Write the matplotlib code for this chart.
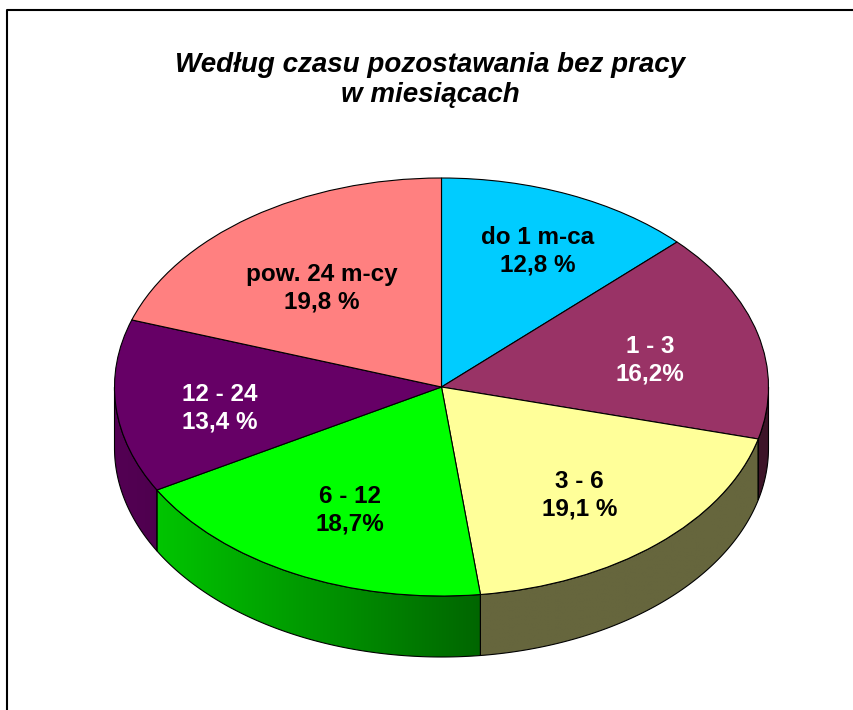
import numpy as np
import matplotlib.pyplot as plt
from matplotlib.patches import Wedge, Polygon
from matplotlib.colors import to_rgb
from matplotlib.transforms import Affine2D

plt.rcParams['font.family'] = ['Liberation Sans', 'DejaVu Sans']

labels = ['do 1 m-ca', '1 - 3', '3 - 6', '6 - 12', '12 - 24', 'pow. 24 m-cy']
shares = [12.8, 16.2, 19.1, 18.7, 13.4, 19.8]
pct_text = ['12,8 %', '16,2%', '19,1 %', '18,7%', '13,4 %', '19,8 %']
colors = ['#00CCFF', '#993366', '#FFFF99', '#00FF00', '#660066', '#FF8080']
text_colors = ['black', 'white', 'black', 'black', 'white', 'black']
label_r = [0.75, 0.66, 0.64, 0.62, 0.68, 0.63]

W, H = 854, 710
cx, cy = 441.5, H - 387
rx, ry, depth = 327, 209, 61

fig = plt.figure(figsize=(W / 100, H / 100), dpi=100)
ax = fig.add_axes([0, 0, 1, 1])
ax.axis('off')


def ell(t, dz=0):
    t = np.radians(t)
    return cx + rx * np.cos(t), cy + ry * np.sin(t) - dz


def shade(x):
    # lighter on the left side of the wall, darker to the right
    return np.clip(0.82 - 0.42 * (x - (cx - rx)) / (480 - (cx - rx)), 0.4, 0.82)


bounds = 90 - 3.6 * np.concatenate([[0], np.cumsum(shares)])

# side walls (front half only)
for i, col in enumerate(colors):
    hi, lo = min(bounds[i], 0), max(bounds[i + 1], -180)
    if hi <= lo:
        continue
    t = np.linspace(lo, hi, 100)
    tx, ty = ell(t)
    bx, by = ell(t[::-1], depth)
    pts = np.column_stack([np.concatenate([tx, bx]), np.concatenate([ty, by])])
    poly = Polygon(pts, closed=True, facecolor='none', edgecolor='black', lw=0.8, zorder=3)
    ax.add_patch(poly)
    x0, x1 = pts[:, 0].min(), pts[:, 0].max()
    xs = np.linspace(x0, x1, 200)
    img = np.array(to_rgb(col))[None, None, :] * shade(xs)[None, :, None]
    im = ax.imshow(img, extent=[x0, x1, pts[:, 1].min(), pts[:, 1].max()],
                   aspect='auto', zorder=2, interpolation='bilinear')
    im.set_clip_path(poly)

# top face
tr = Affine2D().scale(rx, ry).translate(cx, cy) + ax.transData
for i, col in enumerate(colors):
    w = Wedge((0, 0), 1, bounds[i + 1], bounds[i], facecolor=col,
              edgecolor='black', lw=0.8, transform=tr, zorder=4)
    ax.add_patch(w)
    m = np.radians((bounds[i] + bounds[i + 1]) / 2)
    x = cx + label_r[i] * rx * np.cos(m)
    y = cy + label_r[i] * ry * np.sin(m) - 8
    ax.text(x, y, labels[i] + '\n' + pct_text[i], ha='center', va='center',
            fontsize=17.5, fontweight='bold', color=text_colors[i],
            linespacing=1.25, zorder=5)

fig.text(430 / W, 1 - 80 / H, 'Według czasu pozostawania bez pracy\nw miesiącach',
         ha='center', va='center', fontsize=20, fontstyle='italic',
         fontweight='bold', linespacing=1.15)

# chart area frame
ax.plot([7, 7, W + 5], [-5, H - 10, H - 10], color='black', lw=1.5, zorder=6)

ax.set_xlim(0, W)
ax.set_ylim(0, H)
fig.savefig('out.png', dpi=100)
